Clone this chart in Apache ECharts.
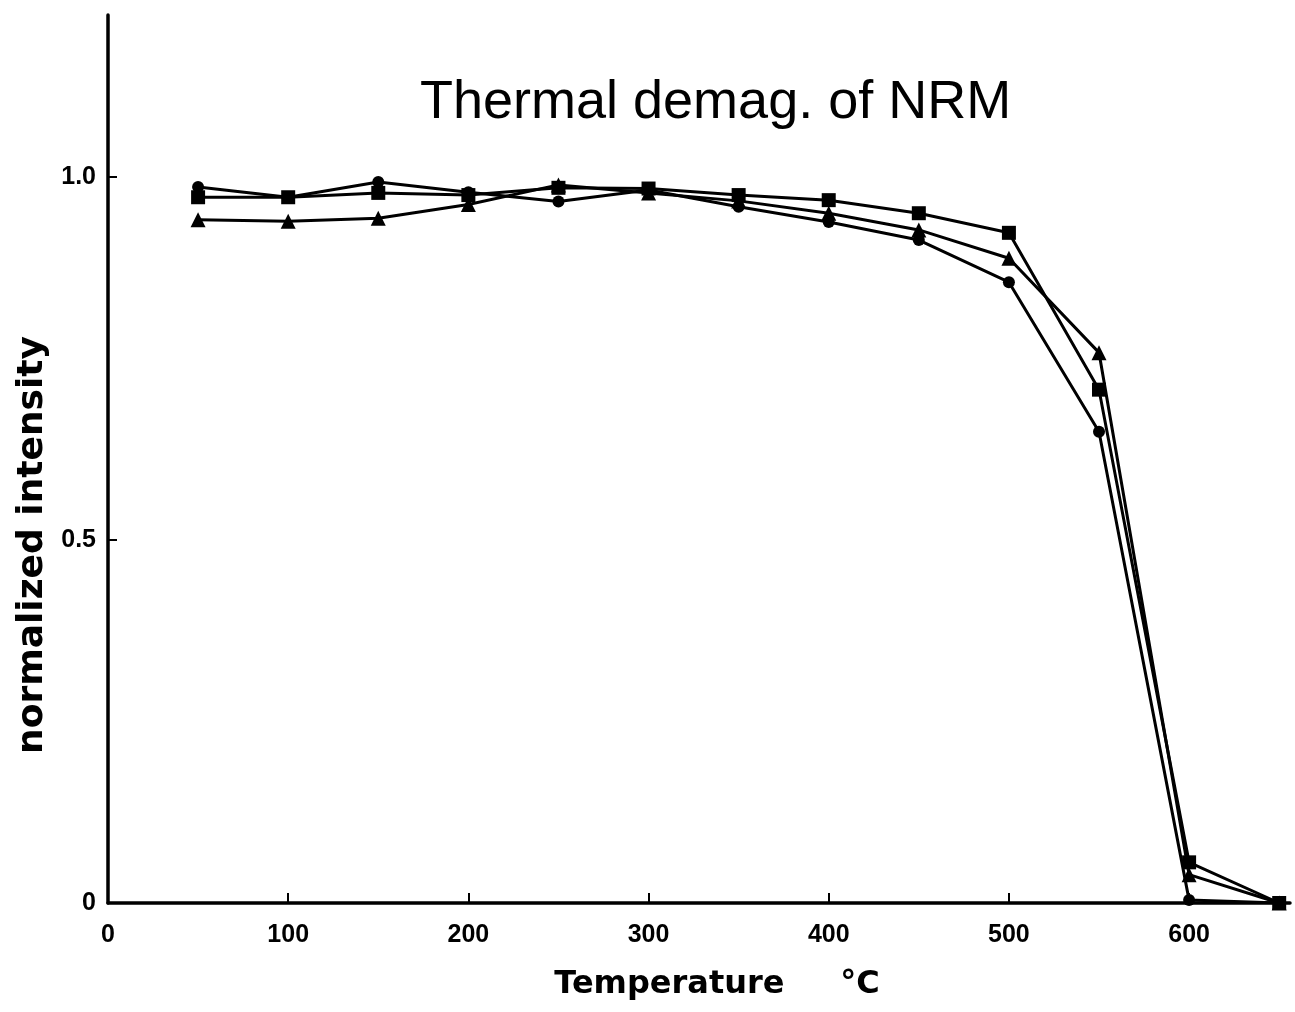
<!DOCTYPE html>
<html>
<head>
<meta charset="utf-8">
<title>Thermal demag. of NRM</title>
<script src="https://cdn.jsdelivr.net/npm/echarts@6/dist/echarts.min.js"></script>
<style>
html,body{margin:0;padding:0;background:#fff;}
#main{width:1295px;height:1012px;}
</style>
</head>
<body>
<div id="main"></div>
<script>
// temperature steps (deg C)
var temps = [50, 100, 150, 200, 250, 300, 350, 400, 450, 500, 550, 600, 650];
// normalized NRM intensity, one array per sample
var circleSample   = [0.986, 0.972, 0.993, 0.979, 0.966, 0.982, 0.959, 0.938, 0.913, 0.855, 0.649, 0.004, 0];
var squareSample   = [0.972, 0.972, 0.978, 0.975, 0.985, 0.984, 0.975, 0.968, 0.950, 0.923, 0.707, 0.056, 0];
var triangleSample = [0.941, 0.939, 0.943, 0.962, 0.989, 0.978, 0.967, 0.950, 0.927, 0.888, 0.758, 0.039, 0];
var xTicks = [0, 100, 200, 300, 400, 500, 600];
var yTicks = [0, 0.5, 1.0];
var yTickText = ['0', '0.5', '1.0'];

function pairs(vals)
{
	var out = [];
	for (var i = 0; i < temps.length; i++) {
		out.push([temps[i], vals[i]]);
	}
	return out;
}

function makeSeries(name, symbol, size, vals)
{
	return {
		name: name,
		type: 'line',
		data: pairs(vals),
		symbol: symbol,
		symbolSize: size,
		showAllSymbol: true,
		animation: false,
		lineStyle: {color: '#000', width: 3},
		itemStyle: {color: '#000'}
	};
}

var myChart = echarts.init(document.getElementById('main'));
var option = {
	backgroundColor: '#fff',
	title: {
		text: 'Thermal demag. of NRM',
		left: 415,
		top: 71,
		textStyle: {
			fontFamily: 'Liberation Sans',
			fontSize: 54,
			fontWeight: 'normal',
			color: '#000'
		}
	},
	grid: {left: 108, right: 5, top: 15, bottom: 109},
	xAxis: {
		type: 'value',
		min: 0,
		max: 656,
		name: 'Temperature     \u00b0C',
		nameLocation: 'middle',
		nameGap: 66,
		nameTextStyle: {
			fontFamily: 'DejaVu Sans',
			fontSize: 32,
			fontWeight: 'bold',
			color: '#000',
			padding: [0, 0, 0, 36]
		},
		splitLine: {show: false},
		axisLine: {lineStyle: {color: '#000', width: 3.5}},
		axisTick: {inside: true, length: 10, customValues: xTicks, lineStyle: {color: '#000', width: 2}},
		axisLabel: {
			customValues: xTicks,
			margin: 20,
			fontFamily: 'Liberation Sans',
			fontSize: 25,
			fontWeight: 'bold',
			color: '#000'
		}
	},
	yAxis: {
		type: 'value',
		min: 0,
		max: 1.223,
		name: 'normalized intensity',
		nameLocation: 'middle',
		nameRotate: 90,
		nameGap: 50,
		nameTextStyle: {
			fontFamily: 'DejaVu Sans',
			fontSize: 36,
			fontWeight: 'bold',
			color: '#000',
			padding: [0, 172, 0, 0]
		},
		splitLine: {show: false},
		axisLine: {lineStyle: {color: '#000', width: 3.5}},
		axisTick: {inside: true, length: 9, customValues: yTicks, lineStyle: {color: '#000', width: 2}},
		axisLabel: {
			customValues: yTicks,
			margin: 12,
			fontFamily: 'Liberation Sans',
			fontSize: 25,
			fontWeight: 'bold',
			color: '#000',
			formatter: function(v)
			{
				for (var i = 0; i < yTicks.length; i++) {
					if (Math.abs(yTicks[i] - v) < 1e-6) return yTickText[i];
				}
				return '';
			}
		}
	},
	series: [
		makeSeries('triangle', 'triangle', 15, triangleSample),
		makeSeries('square', 'rect', 14, squareSample),
		makeSeries('circle', 'circle', 12, circleSample)
	]
};
myChart.setOption(option);
</script>
</body>
</html>
